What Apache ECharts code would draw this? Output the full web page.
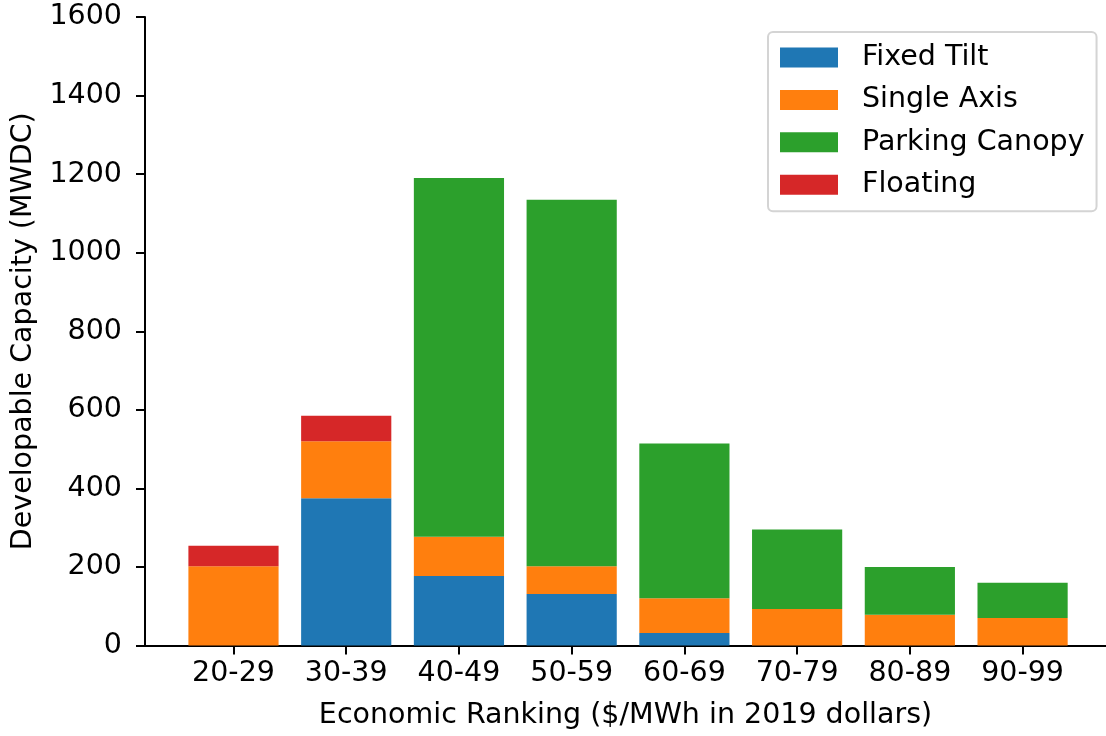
<!DOCTYPE html>
<html>
<head>
<meta charset="utf-8">
<script src="https://cdn.jsdelivr.net/npm/echarts@6/dist/echarts.min.js"></script>
<style>
  html, body { margin: 0; padding: 0; background: #ffffff; }
  #chart { width: 1106px; height: 736px; }
</style>
</head>
<body>
<div id="chart"></div>
<script>
// Price bands ($/MWh, 2019 dollars)
const categories = ['20-29', '30-39', '40-49', '50-59', '60-69', '70-79', '80-89', '90-99'];

// Developable capacity per technology (MWDC)
const fixedTilt     = [0, 375, 177, 131, 32, 0, 0, 0];
const singleAxis    = [202, 145, 100, 71, 88, 93, 78, 70];
const parkingCanopy = [0, 0, 913, 933, 394, 202, 122, 90];
const floating      = [52, 65, 0, 0, 0, 0, 0, 0];

const yTicks = [0, 200, 400, 600, 800, 1000, 1200, 1400, 1600];

const seriesDefs = [
  { name: 'Fixed Tilt',     values: fixedTilt,     color: '#1f77b4' },
  { name: 'Single Axis',    values: singleAxis,    color: '#ff7f0e' },
  { name: 'Parking Canopy', values: parkingCanopy, color: '#2ca02c' },
  { name: 'Floating',       values: floating,      color: '#d62728' }
];

const FONT = 'DejaVu Sans';
const FS = 28.5;
const W = 1106;

// Outer frame: x runs from -0.785 to 7.74 category units across the full width
const X_MIN = -0.785, X_MAX = 7.74;
const GRID_LEFT = 145, GRID_TOP = 17, GRID_BOTTOM = 90.5;
const unit = (W - GRID_LEFT) / (X_MAX - X_MIN);
// Inner grid holding the stacked bars: one band per category
const barLeft = GRID_LEFT + (-0.5 - X_MIN) * unit;
const barRight = W - (barLeft + categories.length * unit);

const catIdx = categories.map((_, i) => i);

const chart = echarts.init(document.getElementById('chart'), null, { renderer: 'canvas' });

chart.setOption({
  animation: false,
  backgroundColor: '#ffffff',
  textStyle: { fontFamily: FONT, color: '#000' },
  grid: [
    { left: GRID_LEFT, right: 0, top: GRID_TOP, bottom: GRID_BOTTOM },
    { left: barLeft, right: barRight, top: GRID_TOP, bottom: GRID_BOTTOM }
  ],
  legend: {
    orient: 'vertical',
    left: 768,
    top: 32,
    padding: [11, 12, 12, 12],
    itemWidth: 58,
    itemHeight: 20,
    itemGap: 13.4,
    icon: 'rect',
    backgroundColor: 'rgba(255,255,255,0.8)',
    borderColor: '#d4d4d4',
    borderWidth: 2,
    borderRadius: 5,
    textStyle: {
      fontFamily: FONT, fontSize: FS, color: '#000',
      padding: [0, 0, 0, 19]
    },
    data: seriesDefs.map(s => s.name)
  },
  xAxis: [
    {
      gridIndex: 0,
      type: 'value',
      min: X_MIN,
      max: X_MAX,
      name: 'Economic Ranking ($/MWh in 2019 dollars)',
      nameLocation: 'middle',
      nameGap: 56,
      nameTextStyle: { fontFamily: FONT, fontSize: FS, color: '#000' },
      axisLine: { show: true, onZero: false, lineStyle: { color: '#000', width: 2 } },
      axisTick: { show: true, inside: false, length: 9, customValues: catIdx,
                  lineStyle: { color: '#000', width: 2 } },
      axisLabel: { show: true, customValues: catIdx, margin: 14,
                   fontFamily: FONT, fontSize: FS, color: '#000',
                   formatter: v => categories[Math.round(v)] },
      splitLine: { show: false }
    },
    {
      gridIndex: 1,
      type: 'category',
      data: categories,
      boundaryGap: true,
      show: false
    }
  ],
  yAxis: [
    {
      gridIndex: 0,
      type: 'value',
      min: 0,
      max: 1600,
      interval: 200,
      name: 'Developable Capacity (MWDC)',
      nameLocation: 'middle',
      nameGap: 104,
      nameTextStyle: { fontFamily: FONT, fontSize: FS, color: '#000' },
      axisLine: { show: true, onZero: false, lineStyle: { color: '#000', width: 2 } },
      axisTick: { show: true, inside: false, length: 9, customValues: yTicks,
                  lineStyle: { color: '#000', width: 2 } },
      axisLabel: { margin: 23, fontFamily: FONT, fontSize: FS, color: '#000',
                   customValues: yTicks, formatter: v => String(v) },
      splitLine: { show: false }
    },
    {
      gridIndex: 1,
      type: 'value',
      min: 0,
      max: 1600,
      show: false,
      splitLine: { show: false }
    }
  ],
  series: seriesDefs.map(s => ({
    name: s.name,
    type: 'bar',
    xAxisIndex: 1,
    yAxisIndex: 1,
    stack: 'capacity',
    barWidth: '80%',
    itemStyle: { color: s.color },
    emphasis: { disabled: true },
    data: s.values
  }))
});
</script>
</body>
</html>
